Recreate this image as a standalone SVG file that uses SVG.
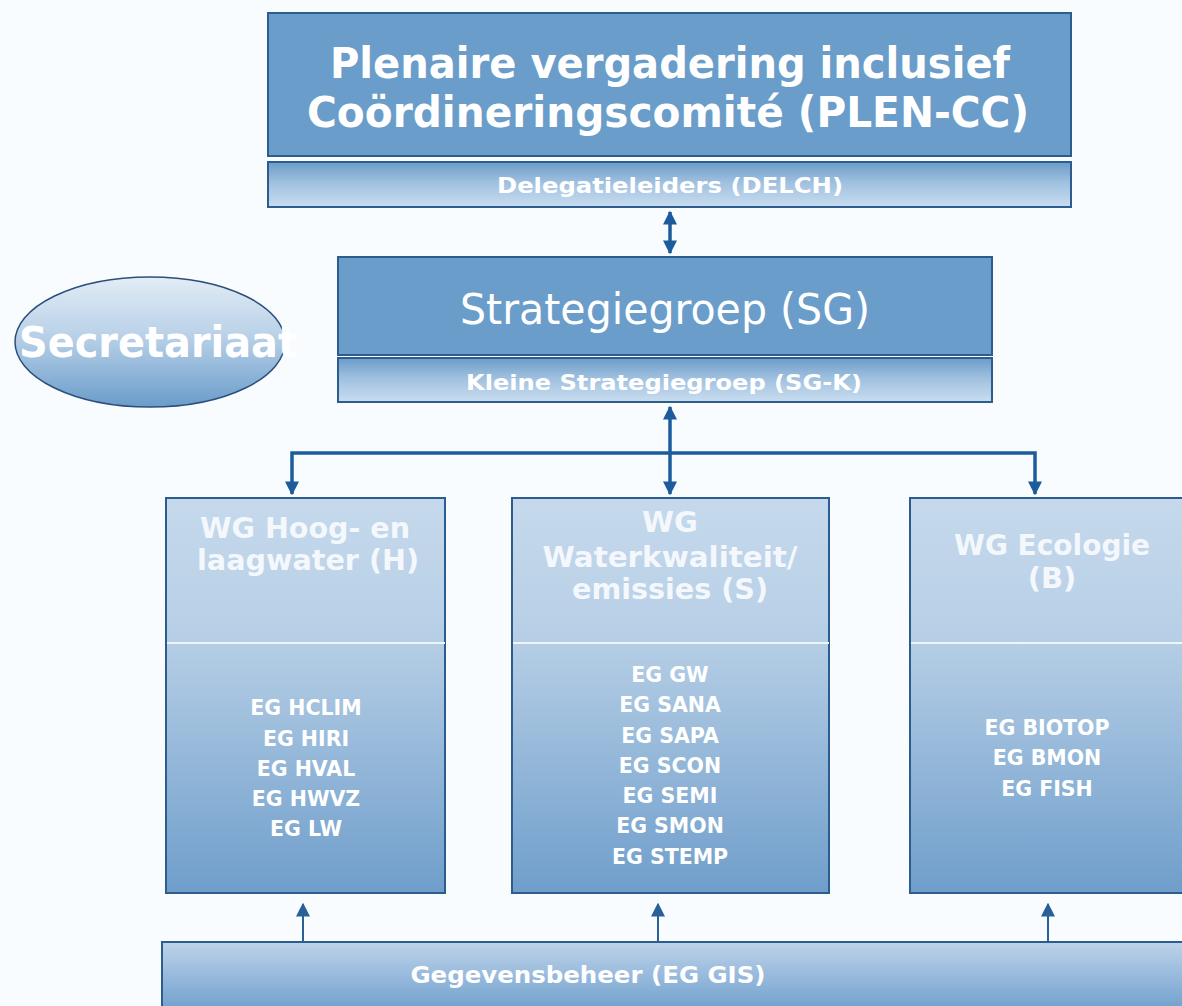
<svg xmlns="http://www.w3.org/2000/svg" width="1182" height="1006" viewBox="0 0 1182 1006">
<defs>
<linearGradient id="gBar" x1="0" y1="0" x2="0" y2="1">
<stop offset="0" stop-color="#6b9cc9"/><stop offset="0.45" stop-color="#9fc0df"/><stop offset="1" stop-color="#c9ddf0"/>
</linearGradient>
<linearGradient id="gWG" x1="0" y1="0" x2="0" y2="1">
<stop offset="0" stop-color="#c6d9ec"/><stop offset="0.35" stop-color="#b7cfe6"/><stop offset="1" stop-color="#6f9ecb"/>
</linearGradient>
<linearGradient id="gEll" x1="0" y1="0" x2="0" y2="1">
<stop offset="0" stop-color="#e2ecf5"/><stop offset="0.45" stop-color="#b9d1e8"/><stop offset="1" stop-color="#6a9cca"/>
</linearGradient>
<linearGradient id="gBot" x1="0" y1="0" x2="0" y2="1">
<stop offset="0" stop-color="#bdd3e9"/><stop offset="1" stop-color="#6f9fcd"/>
</linearGradient>
<marker id="ah" viewBox="0 0 10 10" refX="9" refY="5" markerWidth="4" markerHeight="4" orient="auto-start-reverse" markerUnits="strokeWidth">
<path d="M0,0 L10,5 L0,10 z" fill="#1d5c9c"/>
</marker>
<marker id="ahs" viewBox="0 0 10 10" refX="9" refY="5" markerWidth="7" markerHeight="7" orient="auto-start-reverse" markerUnits="strokeWidth">
<path d="M0,0 L10,5 L0,10 z" fill="#2a6098"/>
</marker>
</defs>
<style>
.dark{fill:#6a9dc9;stroke:#2c5d8e;stroke-width:2}
.bar{fill:url(#gBar);stroke:#2c5d8e;stroke-width:2}
.wg{fill:url(#gWG);stroke:#2c5d8e;stroke-width:2}
.t{font-family:"DejaVu Sans",Verdana,sans-serif;fill:#ffffff;text-anchor:middle}
.b{font-weight:bold}
.title{font-size:29px;fill:#f4f8fc}
.eg{font-size:20.5px}
.conn{stroke:#1d5c9c;stroke-width:3.5;fill:none}
.thin{stroke:#2a6098;stroke-width:2;fill:none}
</style>
<rect x="0" y="0" width="1182" height="1006" fill="#f9fcff"/>

<g id="plen">
<rect class="dark" x="268" y="13" width="803" height="143"/>
<text class="t b" x="670" y="78" font-size="43" textLength="680" lengthAdjust="spacingAndGlyphs">Plenaire vergadering inclusief</text>
<text class="t b" x="668" y="127" font-size="43" textLength="722" lengthAdjust="spacingAndGlyphs">Coördineringscomité (PLEN-CC)</text>
</g>
<g id="delch">
<rect class="bar" x="268" y="162" width="803" height="45"/>
<text class="t b" x="670" y="193" font-size="21" textLength="346" lengthAdjust="spacingAndGlyphs">Delegatieleiders (DELCH)</text>
</g>
<g id="sg">
<rect class="dark" x="338" y="257" width="654" height="98"/>
<text class="t" x="665" y="324" font-size="42" textLength="410" lengthAdjust="spacingAndGlyphs">Strategiegroep (SG)</text>
</g>
<g id="sgk">
<rect class="bar" x="338" y="358" width="654" height="44"/>
<text class="t b" x="664" y="390" font-size="21" textLength="396" lengthAdjust="spacingAndGlyphs">Kleine Strategiegroep (SG-K)</text>
</g>
<g id="secretariaat">
<ellipse cx="150" cy="342" rx="135" ry="65" fill="url(#gEll)" stroke="#2c4f7a" stroke-width="1.5"/>
<text class="t b" x="158" y="357" font-size="43" textLength="278" lengthAdjust="spacingAndGlyphs">Secretariaat</text>
</g>

<g id="wg-h">
<rect class="wg" x="166" y="498" width="279" height="395"/>
<line x1="167" y1="643" x2="445" y2="643" stroke="#eef5fb" stroke-width="2"/>
<text class="t b title" x="305" y="538" textLength="210" lengthAdjust="spacingAndGlyphs">WG Hoog- en</text>
<text class="t b title" x="308" y="570" textLength="222" lengthAdjust="spacingAndGlyphs">laagwater (H)</text>
<text class="t b eg" x="306" y="715">EG HCLIM</text>
<text class="t b eg" x="306" y="746">EG HIRI</text>
<text class="t b eg" x="306" y="776">EG HVAL</text>
<text class="t b eg" x="306" y="806">EG HWVZ</text>
<text class="t b eg" x="306" y="836">EG LW</text>
</g>
<g id="wg-s">
<rect class="wg" x="512" y="498" width="317" height="395"/>
<line x1="513" y1="643" x2="829" y2="643" stroke="#eef5fb" stroke-width="2"/>
<text class="t b title" x="670" y="532">WG</text>
<text class="t b title" x="670" y="567" textLength="255" lengthAdjust="spacingAndGlyphs">Waterkwaliteit/</text>
<text class="t b title" x="670" y="599" textLength="196" lengthAdjust="spacingAndGlyphs">emissies (S)</text>
<text class="t b eg" x="670" y="682">EG GW</text>
<text class="t b eg" x="670" y="712">EG SANA</text>
<text class="t b eg" x="670" y="743">EG SAPA</text>
<text class="t b eg" x="670" y="773">EG SCON</text>
<text class="t b eg" x="670" y="803">EG SEMI</text>
<text class="t b eg" x="670" y="833">EG SMON</text>
<text class="t b eg" x="670" y="864">EG STEMP</text>
</g>
<g id="wg-b">
<rect class="wg" x="910" y="498" width="280" height="395"/>
<line x1="911" y1="643" x2="1182" y2="643" stroke="#eef5fb" stroke-width="2"/>
<text class="t b title" x="1052" y="555" textLength="196" lengthAdjust="spacingAndGlyphs">WG Ecologie</text>
<text class="t b title" x="1052" y="588">(B)</text>
<text class="t b eg" x="1047" y="735">EG BIOTOP</text>
<text class="t b eg" x="1047" y="765">EG BMON</text>
<text class="t b eg" x="1047" y="796">EG FISH</text>
</g>
<g id="gis">
<rect x="162" y="942" width="1030" height="70" fill="url(#gBot)" stroke="#2c5d8e" stroke-width="2"/>
<text class="t b" x="588" y="983" font-size="23" textLength="355" lengthAdjust="spacingAndGlyphs">Gegevensbeheer (EG GIS)</text>
</g>

<g id="connectors">
<line class="conn" x1="670" y1="212" x2="670" y2="253" marker-start="url(#ah)" marker-end="url(#ah)"/>
<line class="conn" x1="670" y1="407" x2="670" y2="494" marker-start="url(#ah)" marker-end="url(#ah)"/>
<polyline class="conn" points="292,494 292,453 1035,453 1035,494" marker-start="url(#ah)" marker-end="url(#ah)"/>
<line class="thin" x1="303" y1="941" x2="303" y2="904" marker-end="url(#ahs)"/>
<line class="thin" x1="658" y1="941" x2="658" y2="904" marker-end="url(#ahs)"/>
<line class="thin" x1="1048" y1="941" x2="1048" y2="904" marker-end="url(#ahs)"/>
</g>
</svg>
